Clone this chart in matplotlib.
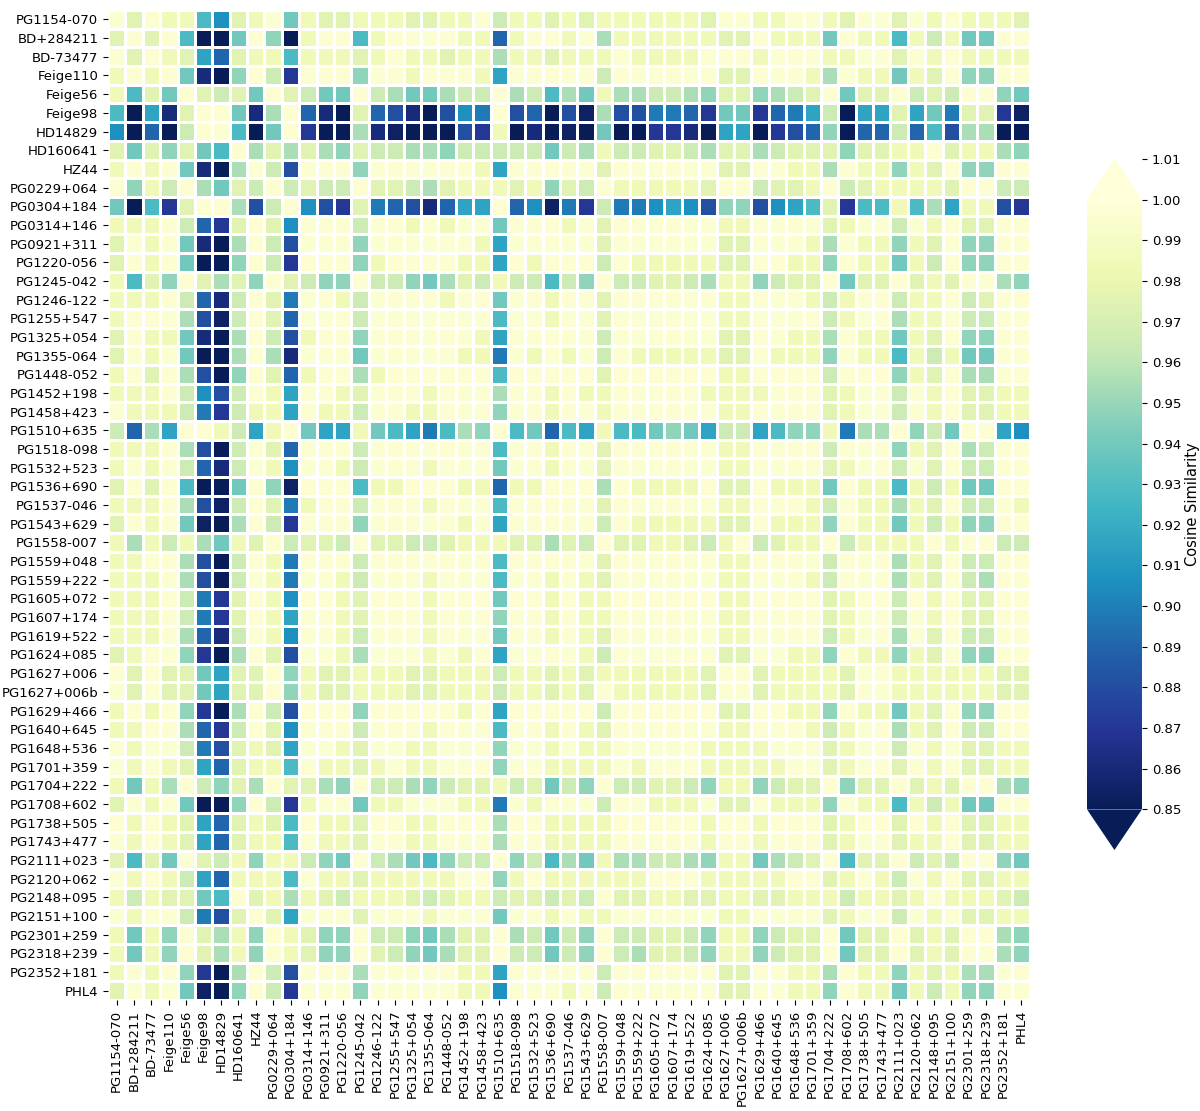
import numpy as np
import matplotlib
matplotlib.use("Agg")
import matplotlib.pyplot as plt
from matplotlib.patches import Polygon

# star names (rows and columns, same order)
stars = [
    "PG1154-070", "BD+284211", "BD-73477", "Feige110", "Feige56", "Feige98",
    "HD14829", "HD160641", "HZ44", "PG0229+064", "PG0304+184", "PG0314+146",
    "PG0921+311", "PG1220-056", "PG1245-042", "PG1246-122", "PG1255+547",
    "PG1325+054", "PG1355-064", "PG1448-052", "PG1452+198", "PG1458+423",
    "PG1510+635", "PG1518-098", "PG1532+523", "PG1536+690", "PG1537-046",
    "PG1543+629", "PG1558-007", "PG1559+048", "PG1559+222", "PG1605+072",
    "PG1607+174", "PG1619+522", "PG1624+085", "PG1627+006", "PG1627+006b",
    "PG1629+466", "PG1640+645", "PG1648+536", "PG1701+359", "PG1704+222",
    "PG1708+602", "PG1738+505", "PG1743+477", "PG2111+023", "PG2120+062",
    "PG2148+095", "PG2151+100", "PG2301+259", "PG2318+239", "PG2352+181",
    "PHL4",
]

# similarity levels (one code per cell)
code_values = {
    "9": 0.996, "8": 0.984, "7": 0.975, "6": 0.965, "5": 0.955,
    "4": 0.948, "3": 0.940, "2": 0.928, "1": 0.916, "0": 0.906,
    "a": 0.898, "b": 0.891, "c": 0.881, "d": 0.870, "e": 0.861,
    "f": 0.854, "g": 0.845,
}

# upper triangle, row i holds columns i..52 (matrix is symmetric)
upper_codes = [
    "979882078938778887" "788968878788888879" "98899879979898887",
    "9792gg394g8992899" "9988b8998958888887" "79888398828683399",
    "9871b78828887898" "878858878889888899" "98999889979898888",
    "93eg496d9994998" "999819999969999997" "79998598838794499",
    "97673976339653" "356695625385566547" "74567937796769943",
    "993e59beg7bce" "gc0a9cbgcf5ccaabd3" "3dba16g11713a77df",
    "92g39dgg5efg" "ggcd8gegfg3ggddeg1" "1gdcb4gbb6b2c55gg",
    "95757547665" "546666636586677657" "75677747788978854",
    "96c9994999" "999819999979999997" "79988598848794499",
    "967669776" "578887847698888879" "96778967888879966",
    "90cd7abc" "eb119b0fad6aa010c4" "4c0127d22825188cd",
    "9996998" "989939998979999998" "89999789969897799",
    "994999" "999819999979999997" "79998598848794499",
    "94899" "998819899969888887" "79988498838694499",
    "9664" "357686626496677658" "84677937797879954",
    "999" "989939989979999998" "89998689968896799",
    "99" "999929989979999998" "89999689958896699",
    "9" "999819999969999997" "79988598838794499",
    "9988a9898969888887" "79888498828683399",
    "99929999979999998" "89999699948795599",
    "9959989889999988" "88999789969897788",
    "949989989999998" "89999789969897788",
    "923b2182234316" "612448a5594639910",
    "9989979999998" "89999699948795699",
    "989979999998" "89999789969796699",
    "99959888897" "79888398828683399",
    "9979999998" "89998698858796698",
    "969888887" "79888498838684499",
    "97788768" "96788968888989966",
    "9999998" "89999699958796699",
    "999998" "89998699958796599",
    "99998" "89999789969897799",
    "9998" "89999789969897799",
    "998" "89999689959796699",
    "97" "79988498848794499",
    "997888879988888877",
    "97888879988888877",
    "9988498838794499",
    "998689958796699",
    "99789969897788",
    "9789979897788",
    "947797879954",
    "98828683399",
    "9979897788",
    "978897788",
    "96769943",
    "9897788",
    "988876",
    "97788",
    "9954",
    "954",
    "99",
    "9",
]

cbar_ticks = [0.85, 0.86, 0.87, 0.88, 0.89, 0.90, 0.91, 0.92, 0.93,
              0.94, 0.95, 0.96, 0.97, 0.98, 0.99, 1.00, 1.01]

n = len(stars)
sim = np.zeros((n, n))
for i, row in enumerate(upper_codes):
    for k, ch in enumerate(row):
        sim[i, i + k] = code_values[ch]
        sim[i + k, i] = code_values[ch]

cmap = plt.get_cmap("YlGnBu_r")
vmin, vmax = 0.85, 1.00

fig = plt.figure(figsize=(12, 11.11), dpi=100)
ax = fig.add_axes([0.09, 0.0999, 0.768, 0.891])

ax.pcolormesh(sim, cmap=cmap, vmin=vmin, vmax=vmax,
              edgecolors="white", linewidth=0.8)
ax.set_xlim(0, n)
ax.set_ylim(n, 0)
ax.set_xticks(np.arange(n) + 0.5)
ax.set_xticklabels(stars, rotation=90, fontsize=9.5)
ax.set_yticks(np.arange(n) + 0.5)
ax.set_yticklabels(stars, fontsize=9.5)
for s in ax.spines.values():
    s.set_visible(False)

# colorbar with both extensions, drawn by hand so the 1.01 tick sits on the tip
cax = fig.add_axes([0.9058, 0.2349, 0.0458, 0.622])
edges = np.linspace(vmin, vmax, 257)
mids = 0.5 * (edges[:-1] + edges[1:])
cax.pcolormesh([0, 1], edges, mids[:, None], cmap=cmap, vmin=vmin, vmax=vmax)
cax.add_patch(Polygon([(0, vmax), (1, vmax), (0.5, vmax + 0.01)],
                      closed=True, facecolor=cmap(1.0), edgecolor="none"))
cax.add_patch(Polygon([(0, vmin), (1, vmin), (0.5, vmin - 0.01)],
                      closed=True, facecolor=cmap(0.0), edgecolor="none"))
cax.set_xlim(0, 1)
cax.set_ylim(vmin - 0.01, vmax + 0.01)
cax.set_xticks([])
cax.yaxis.tick_right()
cax.set_yticks(cbar_ticks)
cax.set_yticklabels([f"{t:.2f}" for t in cbar_ticks], fontsize=9.5)
cax.yaxis.set_label_position("right")
cax.set_ylabel("Cosine Similarity", fontsize=10.5, labelpad=3)
for s in cax.spines.values():
    s.set_visible(False)

fig.savefig("out.png", dpi=100)
